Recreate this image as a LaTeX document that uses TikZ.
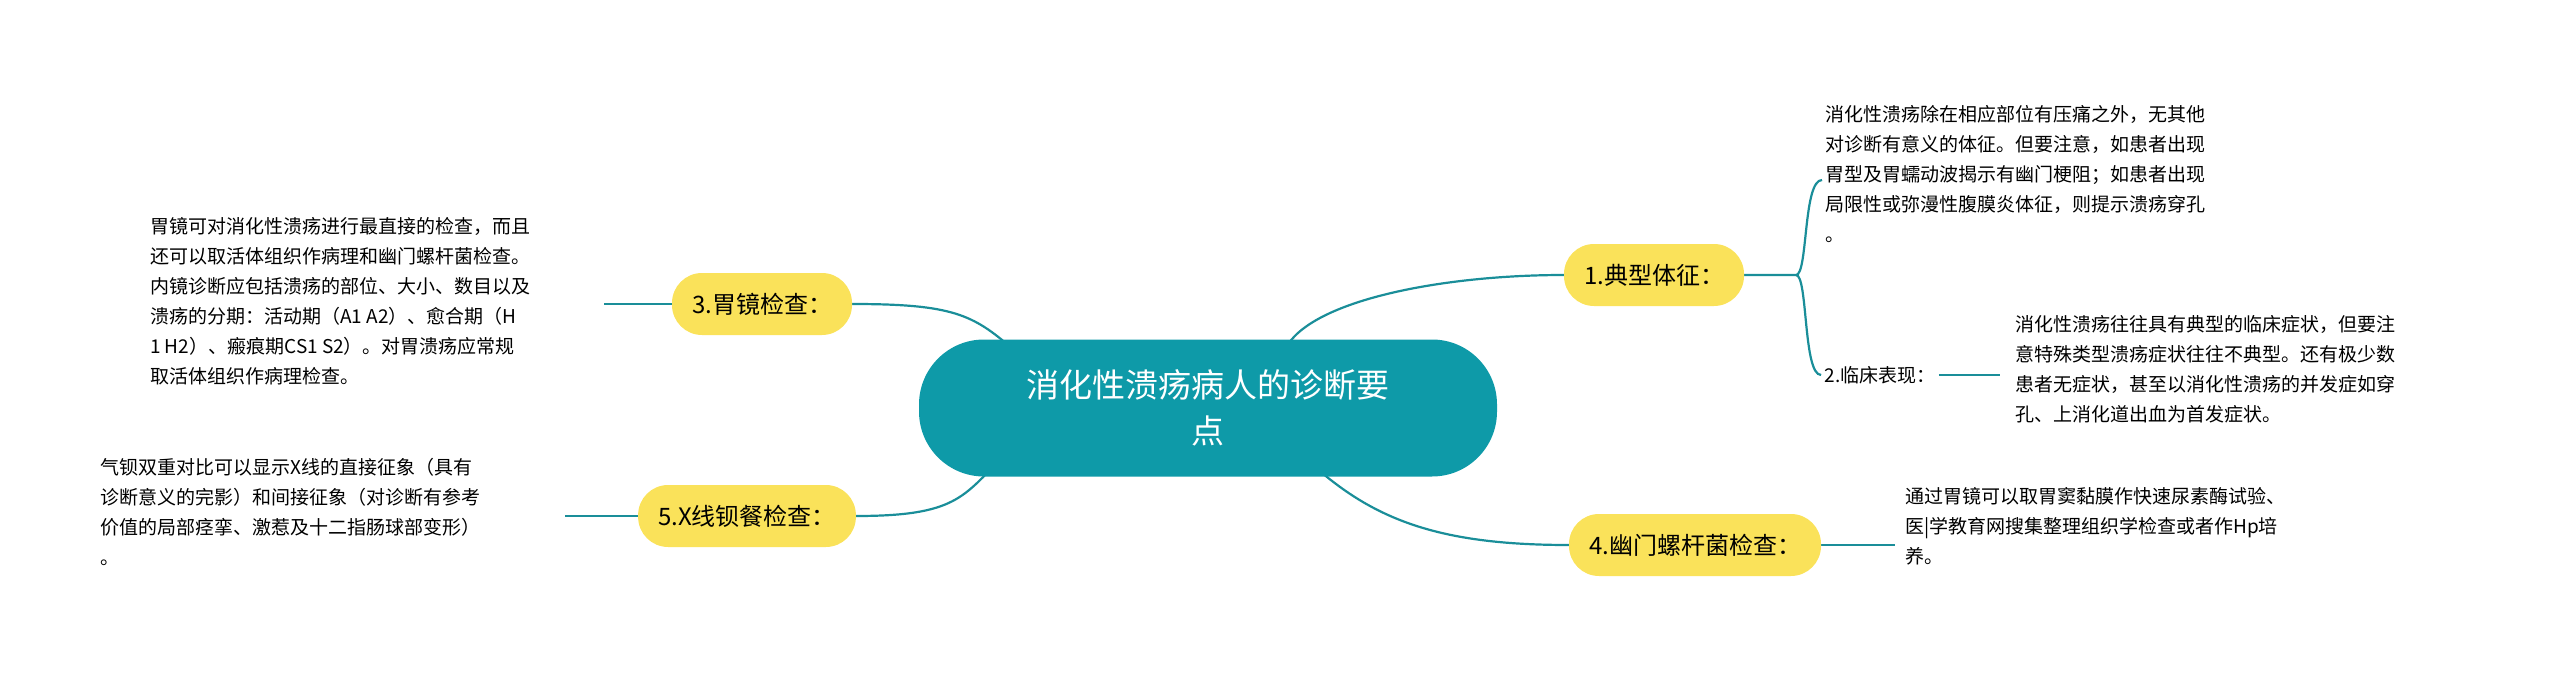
\documentclass[tikz,border=0pt]{standalone}
\usepackage{fontspec}
\setmainfont{Noto Sans CJK SC}
\usetikzlibrary{backgrounds}
\begin{document}
\begin{tikzpicture}[x=1pt,y=-1pt]
\definecolor{tl}{HTML}{0E9AA8}
\definecolor{yl}{HTML}{FAE25A}
\definecolor{lc}{HTML}{1A8E99}
\tikzset{ln/.style={draw=lc,line width=2.2pt},
  yb/.style={fill=yl,rounded corners=30pt,minimum height=62pt,font=\fontsize{24}{30}\selectfont,inner xsep=20pt},
  tx/.style={align=left,anchor=north west,font=\fontsize{19}{30}\selectfont,inner sep=0pt}}
\useasboundingbox (0,0) rectangle (2560,690);
\node[fill=tl,text=white,rounded corners=65pt,minimum width=578pt,minimum height=137pt,align=center,font=\fontsize{33}{46}\selectfont] (c) at (1208,408) {消化性溃疡病人的诊断要\\点};
\node[yb] (n1) at (1654,275) {1.典型体征：};
\node[yb] (n3) at (762,304) {3.胃镜检查：};
\node[yb] (n5) at (747,516) {5.X线钡餐检查：};
\node[yb] (n4) at (1695,545) {4.幽门螺杆菌检查：};
\node[font=\fontsize{19}{24}\selectfont] (n2) at (1880,375) {2.临床表现：};
\coordinate (b1) at (1796,275);
\coordinate (t1) at (1822,180);
\coordinate (t2) at (2000,375);
\coordinate (t3) at (604,304);
\coordinate (t5) at (565,516);
\coordinate (t4) at (1895,545);
\begin{pgfonlayer}{background}
\draw[ln] (c.north) ++(80,5) .. controls +(30,-45) and +(-120,0) .. (n1.west);
\draw[ln] (c.north) ++(-195,10) .. controls +(-40,-35) and +(100,0) .. (n3.east);
\draw[ln] (c.south) ++(-205,-20) .. controls +(-40,40) and +(100,0) .. (n5.east);
\draw[ln] (c.south) ++(115,-3) .. controls +(60,50) and +(-120,0) .. (n4.west);
\draw[ln] (n1.east) -- (b1) .. controls (1808,275) and (1803,180) .. (t1);
\draw[ln] (b1) .. controls (1808,275) and (1803,375) .. (n2.west);
\draw[ln] (n2.east) -- (t2);
\draw[ln] (n3.west) -- (t3);
\draw[ln] (n5.west) -- (t5);
\draw[ln] (n4.east) -- (t4);
\end{pgfonlayer}
\node[tx] (x1) at (1825,105) {消化性溃疡除在相应部位有压痛之外，无其他\\对诊断有意义的体征。但要注意，如患者出现\\胃型及胃蠕动波揭示有幽门梗阻；如患者出现\\局限性或弥漫性腹膜炎体征，则提示溃疡穿孔\\。};
\node[tx] (x2) at (2015,315) {消化性溃疡往往具有典型的临床症状，但要注\\意特殊类型溃疡症状往往不典型。还有极少数\\患者无症状，甚至以消化性溃疡的并发症如穿\\孔、上消化道出血为首发症状。};
\node[tx] (x3) at (150,217) {胃镜可对消化性溃疡进行最直接的检查，而且\\还可以取活体组织作病理和幽门螺杆菌检查。\\内镜诊断应包括溃疡的部位、大小、数目以及\\溃疡的分期：活动期（A1 A2）、愈合期（H\\1 H2）、瘢痕期CS1 S2）。对胃溃疡应常规\\取活体组织作病理检查。};
\node[tx] (x5) at (100,458) {气钡双重对比可以显示X线的直接征象（具有\\诊断意义的完影）和间接征象（对诊断有参考\\价值的局部痉挛、激惹及十二指肠球部变形）\\。};
\node[tx] (x4) at (1905,487) {通过胃镜可以取胃窦黏膜作快速尿素酶试验、\\医|学教育网搜集整理组织学检查或者作Hp培\\养。};
\end{tikzpicture}
\end{document}
